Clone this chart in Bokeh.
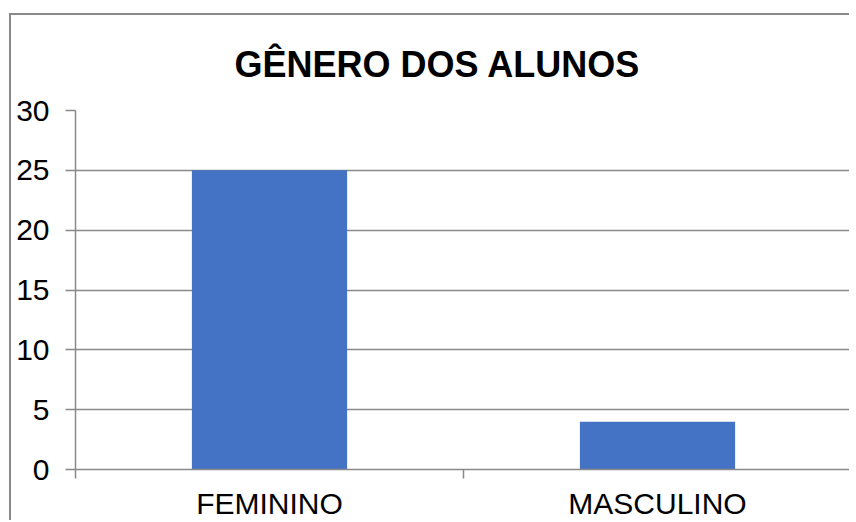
from bokeh.plotting import figure
from bokeh.models import Range1d, LinearAxis, FixedTicker, Title, ColumnDataSource
from bokeh.embed import file_html
from bokeh.resources import INLINE

title_text = "GÊNERO DOS ALUNOS"
categories = ["FEMININO", "MASCULINO"]
counts = [25, 4]
y_ticks = [0, 5, 10, 15, 20, 25, 30]

GRAY = "#898989"
BAR = "#4472C4"
FONT = "Liberation Sans"

n = len(categories)
centers = [i + 0.5 for i in range(n)]
src = ColumnDataSource(dict(x=centers, top=counts, cat=categories))

p = figure(
    x_range=Range1d(0, n),
    y_range=Range1d(0, 30),
    width=840, height=507,
    output_backend="svg", toolbar_location=None,
    x_axis_location=None,
    min_border_left=64, min_border_right=0,
    min_border_top=95, min_border_bottom=53,
    title=None,
)
p.styles = {
    "border-top": "2px solid #898989",
    "border-left": "2px solid #898989",
    "margin-top": "13px",
    "margin-left": "9px",
}
p.outline_line_color = None
p.background_fill_color = "white"
p.border_fill_color = "white"

t = Title(text=title_text, align="left", text_font=FONT, text_font_size="36px",
          text_font_style="bold", text_color="black", standoff=52, offset=159)
p.add_layout(t, "above")

p.vbar(x="x", top="top", width=0.4, source=src, color=BAR, line_color=None)

# y axis
ya = p.yaxis[0]
ya.ticker = FixedTicker(ticks=y_ticks)
ya.axis_line_color = GRAY
ya.axis_line_width = 1.5
ya.major_tick_line_color = GRAY
ya.major_tick_line_width = 1.5
ya.major_tick_out = 10
ya.major_tick_in = 0
ya.minor_tick_line_color = None
ya.major_label_text_font = FONT
ya.major_label_text_font_size = "30px"
ya.major_label_text_color = "black"
ya.major_label_standoff = 16

p.ygrid.ticker = FixedTicker(ticks=y_ticks)
p.ygrid.grid_line_color = GRAY
p.ygrid.grid_line_width = 1.5
for g in p.xgrid:
    g.visible = False

# x axis: labels at category centers, ticks at category boundaries
xa = LinearAxis(
    ticker=FixedTicker(ticks=centers, minor_ticks=list(range(n + 1))),
    major_label_overrides={c: lab for c, lab in zip(centers, categories)},
)
xa.axis_line_color = GRAY
xa.axis_line_width = 1.5
xa.major_tick_line_color = None
xa.major_tick_out = 0
xa.major_tick_in = 0
xa.minor_tick_line_color = GRAY
xa.minor_tick_line_width = 1.5
xa.minor_tick_out = 9
xa.minor_tick_in = 0
xa.major_label_text_font = FONT
xa.major_label_text_font_size = "30px"
xa.major_label_text_color = "black"
xa.major_label_standoff = 8
p.add_layout(xa, "below")

open("out.html", "w").write(file_html(p, INLINE))
